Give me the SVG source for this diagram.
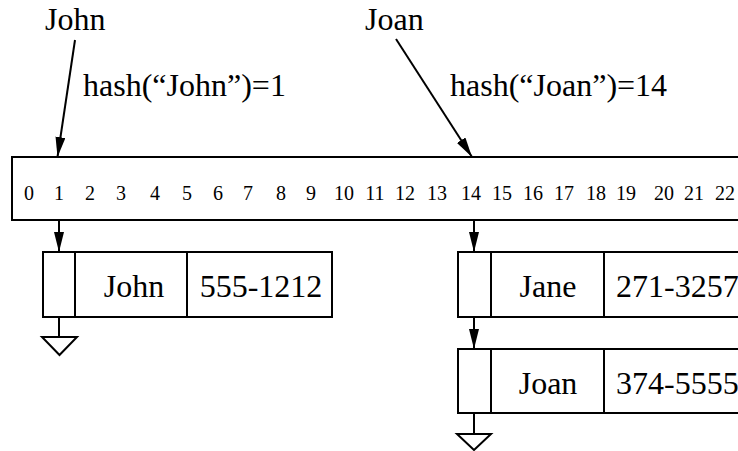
<svg xmlns="http://www.w3.org/2000/svg" width="738" height="451" viewBox="0 0 738 451">
<defs>
<marker id="ah" markerWidth="20" markerHeight="10" refX="20" refY="5" orient="auto" markerUnits="userSpaceOnUse" viewBox="0 0 20 10">
<path d="M0,0 L20,5 L0,10 z" fill="#000"/>
</marker>
<style>
.big{font-size:32px}
.num{font-size:20px}
.box{fill:#fff;stroke:#000;stroke-width:2}
.ln{stroke:#000;stroke-width:2;fill:none}
.gnd{fill:#fff;stroke:#000;stroke-width:2}
</style>
</defs>
<rect width="738" height="451" fill="#fff"/>
<g font-family="Liberation Serif, Times New Roman, serif" fill="#000">
<g id="labels">
<text class="big" x="45" y="30">John</text>
<text class="big" x="365" y="30">Joan</text>
<text class="big" x="83" y="96">hash(“John”)=1</text>
<text class="big" x="450" y="96">hash(“Joan”)=14</text>
</g>
<g id="table">
<rect class="box" x="12" y="157" width="740" height="63"/>
<g class="num" text-anchor="middle">
<text x="29" y="200">0</text>
<text x="59" y="200">1</text>
<text x="90" y="200">2</text>
<text x="121" y="200">3</text>
<text x="155" y="200">4</text>
<text x="187" y="200">5</text>
<text x="218" y="200">6</text>
<text x="248" y="200">7</text>
<text x="281" y="200">8</text>
<text x="311" y="200">9</text>
<text x="344" y="200">10</text>
<text x="375" y="200">11</text>
<text x="405" y="200">12</text>
<text x="437" y="200">13</text>
<text x="471" y="200">14</text>
<text x="502" y="200">15</text>
<text x="533" y="200">16</text>
<text x="564" y="200">17</text>
<text x="596" y="200">18</text>
<text x="626" y="200">19</text>
<text x="664" y="200">20</text>
<text x="694" y="200">21</text>
<text x="725" y="200">22</text>
</g>
</g>
<g id="node-john">
<rect class="box" x="43" y="252" width="289" height="65"/>
<line class="ln" x1="75" y1="252" x2="75" y2="317"/>
<line class="ln" x1="187" y1="252" x2="187" y2="317"/>
<text class="big" x="134" y="297" text-anchor="middle">John</text>
<text class="big" x="261" y="297" text-anchor="middle">555-1212</text>
</g>
<g id="node-jane">
<rect class="box" x="458" y="252" width="300" height="65"/>
<line class="ln" x1="491" y1="252" x2="491" y2="317"/>
<line class="ln" x1="604" y1="252" x2="604" y2="317"/>
<text class="big" x="548" y="297" text-anchor="middle">Jane</text>
<text class="big" x="616" y="297">271-3257</text>
</g>
<g id="node-joan">
<rect class="box" x="458" y="349" width="300" height="64"/>
<line class="ln" x1="491" y1="349" x2="491" y2="413"/>
<line class="ln" x1="604" y1="349" x2="604" y2="413"/>
<text class="big" x="548" y="394" text-anchor="middle">Joan</text>
<text class="big" x="616" y="394">374-5555</text>
</g>
<g id="ground-john">
<line class="ln" x1="59" y1="317" x2="59" y2="337"/>
<path class="gnd" d="M42,337 L77,337 L59.5,355 z"/>
</g>
<g id="ground-joan">
<line class="ln" x1="474" y1="413" x2="474" y2="434"/>
<path class="gnd" d="M457,434 L491,434 L474,450 z"/>
</g>
</g>
<g id="connectors">
<line class="ln" x1="75" y1="40" x2="57.5" y2="157" marker-end="url(#ah)"/>
<line class="ln" x1="396" y1="39" x2="472" y2="157" marker-end="url(#ah)"/>
<line class="ln" x1="59" y1="221" x2="59" y2="252" marker-end="url(#ah)"/>
<line class="ln" x1="474" y1="221" x2="474" y2="252" marker-end="url(#ah)"/>
<line class="ln" x1="474" y1="317" x2="474" y2="349" marker-end="url(#ah)"/>
</g>
</svg>
